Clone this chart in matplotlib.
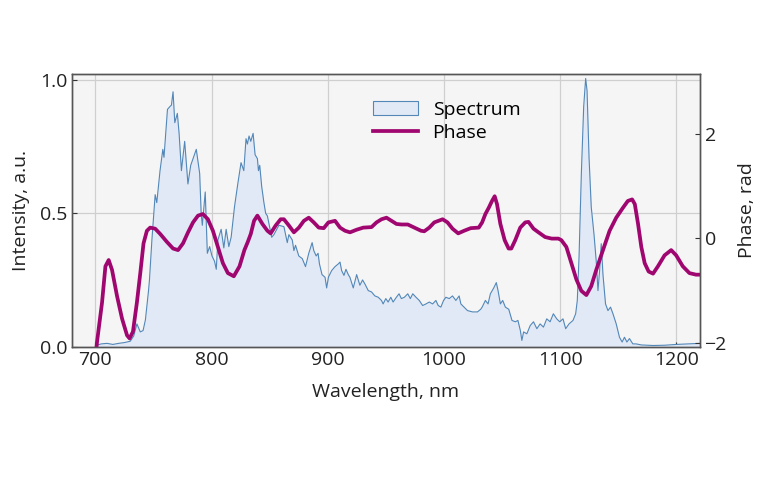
import matplotlib
matplotlib.use("Agg")
import matplotlib.pyplot as plt
from matplotlib.patches import Patch
from matplotlib.lines import Line2D

plt.rcParams['font.family'] = ['Open Sans', 'DejaVu Sans']

# spectrum (wavelength nm, intensity a.u.)
spec_wl = [701, 705, 710, 715, 720, 725, 730, 733, 735.7, 738.6, 741, 743, 745.7, 746.5,
           748.6, 751.4, 752.8, 755.6, 758, 759, 762, 764, 765.4, 766.8, 768.3, 770.5,
           772, 774, 776.8, 779.6, 782, 786.8, 789.7, 791, 792, 794.5, 796.3, 798.3,
           800.3, 802.5, 804, 805.4, 808.2, 810.5, 812.5, 814.8, 816.8, 819.7, 822.5,
           825.3, 827.7, 829.6, 830.8, 832.2, 833.7, 835.7, 837.4, 839.4, 840.3, 841.4,
           843.1, 845, 846.5, 848, 849.4, 851.7, 853.6, 857.9, 862.2, 865.1, 866.5,
           869.4, 870.8, 872.2, 875, 878, 880.8, 883.6, 886.5, 887.9, 890, 891.6, 892.8,
           895, 897.6, 899, 900.5, 903.3, 906.2, 909, 910.5, 911.9, 913.9, 915.6, 917.6,
           919, 921.9, 924.8, 927.6, 929.9, 931.9, 934.8, 937.6, 940.5, 943.4, 946.2,
           947.6, 949.9, 951.9, 954.2, 956.2, 959, 961.3, 963.3, 965.9, 968.8, 971,
           973.1, 975.9, 978.7, 981.6, 984.5, 987.3, 990.2, 993, 995, 997.3, 999.6,
           1001.6, 1004.5, 1007.3, 1010.2, 1013, 1014.5, 1017.3, 1020.2, 1024.5, 1028.8,
           1031.6, 1032.8, 1035.6, 1037.9, 1039.9, 1042.8, 1045, 1046.5, 1048.5, 1050.5,
           1052.8, 1055.7, 1058.5, 1061.4, 1063.6, 1065.7, 1067, 1068.5, 1071.3, 1074.2,
           1077, 1079.9, 1082.7, 1085.6, 1088.4, 1091.3, 1094.1, 1097, 1099.6, 1102.4,
           1104.7, 1107.6, 1111, 1113.3, 1114.7, 1116.2, 1118.2, 1120.2, 1121.9, 1123.1,
           1124.8, 1126.7, 1129.1, 1131, 1132.5, 1133.9, 1135.3, 1136.8, 1139, 1141.1,
           1143.3, 1145.4, 1148.2, 1151, 1153.3, 1155.3, 1157.4, 1159.6, 1162.5, 1165.3,
           1170, 1180, 1190, 1200, 1210, 1220]
spec_int = [0.005, 0.01, 0.012, 0.008, 0.012, 0.015, 0.02, 0.04, 0.085, 0.055, 0.06, 0.1,
            0.21, 0.25, 0.4, 0.57, 0.54, 0.66, 0.74, 0.71, 0.89, 0.9, 0.906, 0.956, 0.84,
            0.875, 0.8, 0.66, 0.77, 0.61, 0.68, 0.74, 0.65, 0.5, 0.455, 0.58, 0.35, 0.375,
            0.34, 0.32, 0.29, 0.4, 0.44, 0.37, 0.44, 0.375, 0.41, 0.525, 0.61, 0.69, 0.66,
            0.78, 0.76, 0.79, 0.77, 0.80, 0.72, 0.705, 0.66, 0.68, 0.6, 0.54, 0.5, 0.49,
            0.46, 0.41, 0.42, 0.455, 0.45, 0.39, 0.42, 0.40, 0.36, 0.38, 0.34, 0.33, 0.30,
            0.35, 0.39, 0.36, 0.34, 0.35, 0.31, 0.27, 0.26, 0.22, 0.26, 0.285, 0.30, 0.31,
            0.317, 0.285, 0.267, 0.29, 0.27, 0.26, 0.22, 0.27, 0.23, 0.25, 0.235, 0.21,
            0.205, 0.19, 0.185, 0.173, 0.16, 0.18, 0.167, 0.185, 0.167, 0.185, 0.198, 0.18,
            0.185, 0.198, 0.18, 0.198, 0.185, 0.173, 0.154, 0.16, 0.167, 0.16, 0.173,
            0.154, 0.148, 0.173, 0.185, 0.18, 0.19, 0.173, 0.19, 0.16, 0.148, 0.135, 0.13,
            0.13, 0.14, 0.148, 0.173, 0.16, 0.198, 0.22, 0.24, 0.21, 0.16, 0.173, 0.148,
            0.14, 0.098, 0.093, 0.098, 0.06, 0.023, 0.055, 0.048, 0.079, 0.093, 0.067,
            0.085, 0.073, 0.104, 0.093, 0.123, 0.104, 0.093, 0.104, 0.067, 0.085, 0.098,
            0.123, 0.173, 0.336, 0.65, 0.9, 1.006, 0.96, 0.71, 0.524, 0.42, 0.32, 0.21,
            0.285, 0.386, 0.27, 0.16, 0.135, 0.148, 0.123, 0.085, 0.035, 0.017, 0.035,
            0.017, 0.03, 0.01, 0.01, 0.006, 0.004, 0.005, 0.008, 0.01, 0.012]

# phase (wavelength nm, rad)
phase_wl = [700, 701.4, 705.7, 708.6, 711.4, 714.3, 718.6, 722.9, 727.2, 729.4, 732.3,
            735.7, 738.6, 741.4, 744.3, 747.1, 751.4, 755.7, 761.4, 766.8, 771.1, 775.4,
            779.7, 784, 788.3, 792.5, 796.8, 801.1, 805.4, 809.7, 814, 819.1, 824, 828.2,
            831, 833.7, 836.5, 839.4, 843.7, 848, 850.8, 855.1, 859.4, 862.2, 866.5,
            870.8, 875.1, 879.4, 883.6, 887.9, 892.2, 896.5, 900.5, 906.2, 910.5, 914.8,
            919.1, 924.8, 930.5, 937.6, 941.9, 946.2, 950.5, 954.8, 959.1, 963.4, 968.8,
            974.5, 980.2, 983, 987.3, 991.6, 998.8, 1003, 1007.3, 1012.2, 1017.3, 1023,
            1029.9, 1032.8, 1035.6, 1038.5, 1041.3, 1043.6, 1045.6, 1048.5, 1052.2,
            1055.6, 1057.9, 1061.3, 1065.6, 1069.9, 1072.7, 1077, 1081.3, 1087, 1092.7,
            1098.4, 1101, 1105.3, 1109.6, 1113.9, 1118.2, 1122.5, 1126.7, 1131, 1136.8,
            1142.5, 1148.2, 1154, 1158.2, 1161.9, 1164.2, 1167, 1169.8, 1172.7, 1176.1,
            1179.9, 1184.1, 1189.8, 1195.5, 1199.8, 1205.5, 1211.2, 1216.9, 1220]
phase_rad = [-2.3, -1.98, -1.23, -0.54, -0.42, -0.61, -1.11, -1.54, -1.86, -1.92, -1.79,
             -1.23, -0.67, -0.1, 0.14, 0.2, 0.18, 0.08, -0.07, -0.2, -0.23, -0.1, 0.11,
             0.3, 0.43, 0.46, 0.36, 0.14, -0.17, -0.48, -0.67, -0.73, -0.54, -0.23, -0.08,
             0.08, 0.33, 0.43, 0.27, 0.14, 0.09, 0.24, 0.36, 0.36, 0.24, 0.11, 0.2, 0.33,
             0.39, 0.3, 0.2, 0.19, 0.3, 0.33, 0.2, 0.14, 0.11, 0.16, 0.2, 0.21, 0.3, 0.36,
             0.39, 0.33, 0.27, 0.26, 0.26, 0.2, 0.14, 0.13, 0.2, 0.3, 0.36, 0.3, 0.18,
             0.09, 0.14, 0.19, 0.2, 0.3, 0.46, 0.58, 0.71, 0.8, 0.65, 0.27, -0.04, -0.2,
             -0.2, -0.04, 0.2, 0.3, 0.31, 0.18, 0.11, 0.02, -0.01, -0.01, -0.04, -0.17,
             -0.48, -0.79, -1.01, -1.09, -0.92, -0.61, -0.23, 0.14, 0.39, 0.58, 0.71, 0.74,
             0.65, 0.27, -0.17, -0.48, -0.64, -0.68, -0.54, -0.33, -0.23, -0.33, -0.54,
             -0.67, -0.7, -0.7]

fill_col = '#e1e9f6'
edge_col = '#5287b8'
phase_col = '#a0066f'
fs = 14

fig = plt.figure(figsize=(7.68, 4.8), dpi=100)
ax = fig.add_axes([0.094, 0.278, 0.817, 0.568])
ax.set_facecolor('#f5f5f5')
ax.fill_between(spec_wl, spec_int, 0, color=fill_col, lw=0)
ax.plot(spec_wl, spec_int, color=edge_col, lw=0.8)
ax.set_xlim(680, 1220)
ax.set_ylim(0, 1.023)
ax.set_yticks([0.0, 0.5, 1.0])
ax.set_xticks([700, 800, 900, 1000, 1100, 1200])
ax.grid(True, color='#cfcfcf', lw=0.9)
ax.set_axisbelow(True)
ax.set_xlabel("Wavelength, nm", fontsize=fs, color='#222222', labelpad=10)
ax.set_ylabel("Intensity, a.u.", fontsize=fs, color='#222222', labelpad=7)
ax.tick_params(direction='in', labelsize=fs, colors='#333333', labelcolor='#222222')

ax2 = ax.twinx()
ax2.plot(phase_wl, phase_rad, color=phase_col, lw=2.7, solid_joinstyle='round',
         solid_capstyle='round')
ax2.set_ylim(-2.075, 3.14)
ax2.set_yticks([-2, 0, 2])
ax2.set_ylabel("Phase, rad", fontsize=fs, color='#222222', labelpad=8)
ax2.tick_params(direction='in', labelsize=fs, colors='#333333', labelcolor='#222222')

for a in (ax, ax2):
    for s in a.spines.values():
        s.set_color('#555555')
        s.set_linewidth(1.0)

handles = [Patch(facecolor=fill_col, edgecolor=edge_col, lw=0.8),
           Line2D([], [], color=phase_col, lw=2.7)]
ax2.legend(handles, ["Spectrum", "Phase"], loc='upper left',
           bbox_to_anchor=(0.452, 0.965), frameon=False, fontsize=fs,
           handlelength=2.3, handletextpad=0.75, labelspacing=0.25)

fig.savefig("out.png", dpi=100)
